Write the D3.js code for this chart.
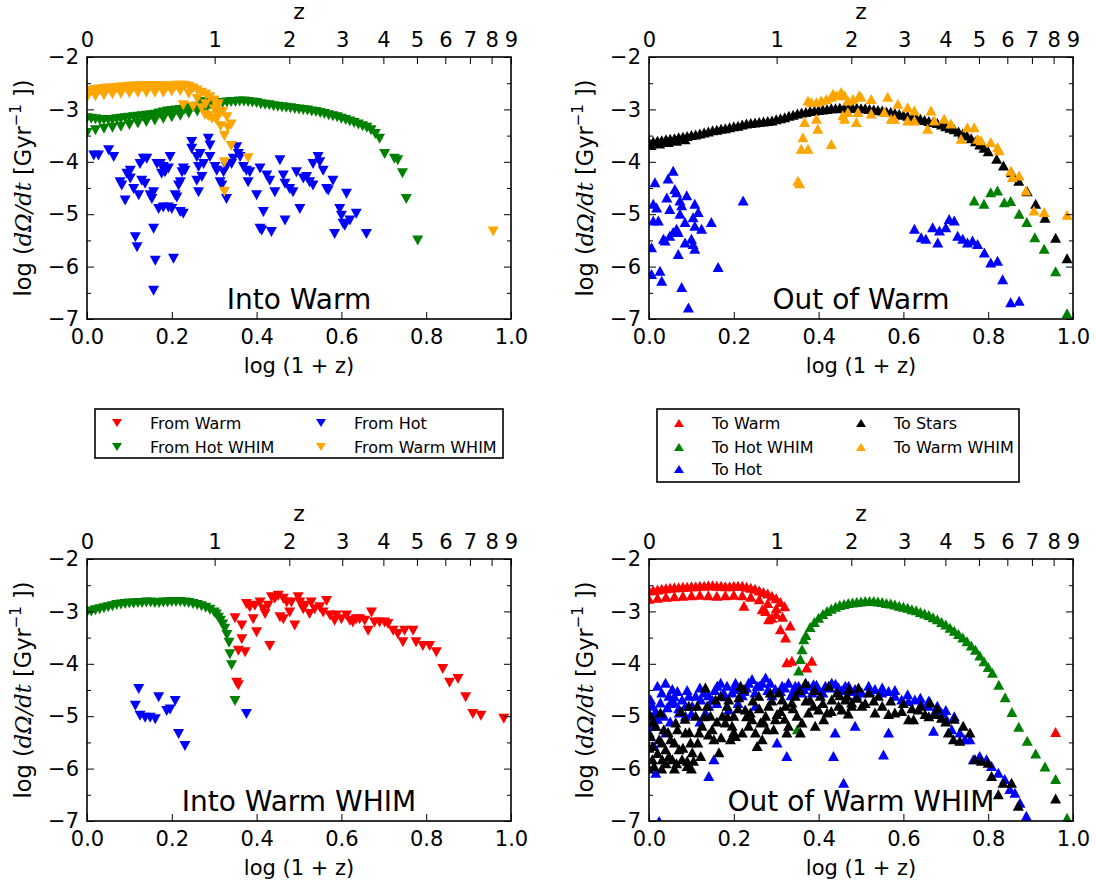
<!DOCTYPE html>
<html>
<head>
<meta charset="utf-8">
<script src="https://cdn.jsdelivr.net/npm/d3@7"></script>
<style>
  body { margin: 0; background: #fff; }
</style>
</head>
<body>
<svg id="mainsvg" width="1096" height="882"></svg>
<script>
// ---- Into Warm (top left) ----
const iwFromHotWHIM = [
  [0.00,-3.17],[0.01,-3.18],[0.02,-3.19],[0.03,-3.2],[0.04,-3.2],[0.05,-3.2],[0.06,-3.2],[0.07,-3.19],[0.08,-3.18],[0.09,-3.17],
  [0.10,-3.16],[0.11,-3.15],[0.12,-3.14],[0.13,-3.13],[0.14,-3.12],[0.15,-3.11],[0.16,-3.1],[0.17,-3.08],[0.18,-3.06],[0.19,-3.04],
  [0.20,-3.03],[0.21,-3.02],[0.22,-3.01],[0.23,-3.0],[0.24,-2.98],[0.25,-2.96],[0.26,-2.95],[0.27,-2.93],[0.28,-2.92],[0.29,-2.91],
  [0.30,-2.9],[0.31,-2.89],[0.32,-2.88],[0.33,-2.87],[0.34,-2.86],[0.35,-2.86],[0.36,-2.85],[0.37,-2.85],[0.38,-2.86],[0.39,-2.87],
  [0.40,-2.88],[0.41,-2.9],[0.42,-2.91],[0.43,-2.92],[0.44,-2.94],[0.45,-2.95],[0.46,-2.96],[0.47,-2.97],[0.48,-2.98],[0.49,-2.99],
  [0.50,-3.0],[0.51,-3.01],[0.52,-3.02],[0.53,-3.04],[0.54,-3.05],[0.55,-3.07],[0.56,-3.09],[0.57,-3.11],[0.58,-3.13],[0.59,-3.15],
  [0.60,-3.18],[0.61,-3.2],[0.62,-3.23],[0.63,-3.26],[0.64,-3.29],[0.65,-3.32],[0.66,-3.35],[0.67,-3.4],[0.68,-3.47],[0.69,-3.56],
  [0.00,-3.45],[0.02,-3.4],[0.04,-3.37],[0.06,-3.35],[0.08,-3.33],[0.10,-3.3],[0.12,-3.27],[0.14,-3.24],[0.16,-3.21],[0.18,-3.18],
  [0.20,-3.15],[0.22,-3.12],[0.24,-3.08],[0.26,-3.04],[0.28,-3.0],[0.30,-2.96],
  [0.27,-2.86],[0.274,-2.88],[0.702,-3.85],[0.725,-3.94],[0.733,-3.97],[0.744,-4.22],[0.753,-4.71],[0.78,-5.5]
]
const iwFromHot = [
  [0.016,-3.88],[0.027,-3.88],[0.051,-3.78],[0.063,-3.91],[0.078,-4.39],[0.082,-4.45],[0.09,-4.74],[0.094,-4.23],[0.102,-4.17],[0.102,-4.32],
  [0.11,-4.52],[0.114,-5.44],[0.118,-5.63],[0.122,-4.64],[0.125,-4.04],[0.133,-3.94],[0.141,-3.94],[0.129,-4.36],[0.137,-4.42],[0.149,-4.64],
  [0.153,-4.71],[0.157,-4.58],[0.157,-5.28],[0.161,-5.89],[0.157,-6.46],[0.165,-4.04],[0.173,-4.04],[0.18,-4.1],[0.169,-4.9],[0.18,-4.87],
  [0.192,-4.87],[0.2,-4.9],[0.176,-4.23],[0.184,-4.2],[0.192,-4.13],[0.196,-3.91],[0.204,-5.85],[0.208,-4.64],[0.212,-4.68],[0.216,-4.45],
  [0.22,-4.39],[0.22,-4.96],[0.227,-4.99],[0.224,-4.2],[0.227,-4.13],[0.231,-4.17],[0.247,-3.62],[0.247,-3.75],[0.259,-3.91],[0.267,-3.85],
  [0.263,-4.1],[0.259,-4.36],[0.263,-4.58],[0.271,-4.29],[0.275,-4.04],[0.286,-3.56],[0.29,-3.69],[0.29,-3.91],[0.302,-4.1],[0.306,-4.17],
  [0.314,-4.39],[0.318,-4.45],[0.322,-4.2],[0.329,-4.1],[0.329,-4.71],[0.341,-4.04],[0.345,-3.94],[0.353,-3.72],[0.357,-3.85],[0.361,-3.91],
  [0.369,-4.1],[0.376,-4.17],[0.38,-4.39],[0.384,-4.2],[0.4,-4.64],[0.408,-4.13],[0.416,-4.96],[0.408,-5.28],[0.412,-5.31],[0.424,-4.26],
  [0.431,-4.36],[0.435,-5.34],[0.443,-4.58],[0.455,-3.97],[0.463,-4.26],[0.467,-4.42],[0.467,-5.12],[0.478,-4.52],[0.486,-4.58],[0.494,-4.2],
  [0.502,-4.9],[0.51,-4.32],[0.518,-4.29],[0.525,-4.39],[0.533,-4.45],[0.533,-4.04],[0.545,-3.91],[0.549,-4.01],[0.557,-4.17],[0.565,-4.52],
  [0.569,-4.55],[0.58,-4.36],[0.584,-5.38],[0.596,-4.9],[0.6,-5.03],[0.604,-5.18],[0.608,-5.22],[0.612,-4.61],[0.62,-5.12],[0.635,-4.99],
  [0.659,-5.38]
]
const iwFromWarmWHIM = [
  [0.00,-2.66],[0.01,-2.65],[0.02,-2.63],[0.03,-2.62],[0.04,-2.61],[0.05,-2.6],[0.06,-2.6],[0.07,-2.59],[0.08,-2.58],[0.09,-2.58],
  [0.10,-2.57],[0.11,-2.57],[0.12,-2.56],[0.13,-2.56],[0.14,-2.56],[0.15,-2.56],[0.16,-2.56],[0.17,-2.56],[0.18,-2.56],[0.19,-2.57],
  [0.20,-2.56],[0.21,-2.55],[0.22,-2.55],[0.23,-2.55],[0.24,-2.57],[0.25,-2.6],[0.26,-2.64],[0.27,-2.68],[0.28,-2.72],[0.29,-2.77],
  [0.30,-2.83],[0.31,-2.9],
  [0.00,-2.78],[0.02,-2.75],[0.04,-2.73],[0.06,-2.71],[0.08,-2.7],[0.10,-2.69],[0.12,-2.68],[0.14,-2.68],[0.16,-2.68],[0.18,-2.68],
  [0.20,-2.66],[0.22,-2.65],[0.24,-2.7],[0.26,-2.8],[0.28,-2.9],[0.30,-3.0],[0.31,-3.1],[0.32,-3.05],[0.33,-3.15],
  [0.227,-2.92],[0.25,-2.95],[0.27,-2.98],[0.278,-3.1],[0.286,-3.13],[0.295,-3.18],[0.305,-3.2],[0.307,-2.97],[0.315,-3.32],
  [0.324,-3.51],[0.332,-3.35],[0.34,-3.29],[0.34,-3.7],[0.38,-3.93],[0.324,-4.01],[0.324,-4.57],[0.958,-5.33]
]

// ---- Out of Warm (top right) ----
const owToStars = [
  [0.00,-3.62],[0.01,-3.61],[0.02,-3.6],[0.03,-3.59],[0.04,-3.57],[0.05,-3.56],[0.06,-3.55],[0.07,-3.53],[0.08,-3.52],[0.09,-3.51],
  [0.10,-3.49],[0.11,-3.48],[0.12,-3.46],[0.13,-3.44],[0.14,-3.42],[0.15,-3.4],[0.16,-3.39],[0.17,-3.37],[0.18,-3.36],[0.19,-3.34],
  [0.20,-3.32],[0.21,-3.31],[0.22,-3.29],[0.23,-3.27],[0.24,-3.26],[0.25,-3.25],[0.26,-3.24],[0.27,-3.23],[0.28,-3.22],[0.29,-3.21],
  [0.30,-3.19],[0.31,-3.17],[0.32,-3.15],[0.33,-3.12],[0.34,-3.1],[0.35,-3.08],[0.36,-3.06],[0.37,-3.05],[0.38,-3.03],[0.39,-3.02],
  [0.40,-3.01],[0.41,-3.0],[0.42,-2.99],[0.43,-2.98],[0.44,-2.98],[0.45,-2.97],[0.46,-2.97],[0.47,-2.97],[0.48,-2.97],[0.49,-2.97],
  [0.50,-2.98],[0.51,-2.98],[0.52,-2.99],[0.53,-3.0],[0.54,-3.01],[0.55,-3.02],[0.56,-3.04],[0.57,-3.05],[0.58,-3.07],[0.59,-3.09],
  [0.60,-3.1],[0.61,-3.12],[0.62,-3.14],[0.63,-3.16],[0.64,-3.18],[0.65,-3.2],[0.66,-3.22],[0.67,-3.24],[0.68,-3.26],[0.69,-3.29],
  [0.70,-3.32],[0.71,-3.35],[0.72,-3.38],[0.73,-3.42],[0.74,-3.46],[0.75,-3.5],[0.76,-3.55],[0.77,-3.61],[0.78,-3.67],[0.79,-3.73],
  [0.80,-3.8],[0.82,-3.94],[0.836,-4.07],[0.855,-4.2],[0.872,-4.36],[0.892,-4.56],[0.912,-4.8],[0.934,-5.07],[0.959,-5.45],[0.986,-5.84],
  [0.005,-3.68],[0.025,-3.65],[0.045,-3.62],[0.065,-3.6],[0.085,-3.57]
]
const owToWarmWHIM = [
  [0.351,-4.36],[0.355,-4.41],[0.359,-3.75],[0.375,-3.75],[0.363,-3.53],[0.367,-3.24],[0.375,-2.83],[0.383,-2.86],[0.395,-2.86],[0.395,-3.18],
  [0.398,-3.37],[0.406,-2.83],[0.418,-2.8],[0.43,-2.76],[0.434,-2.7],[0.442,-2.73],[0.453,-2.67],[0.461,-2.73],[0.469,-2.83],[0.481,-2.8],
  [0.496,-2.73],[0.5,-2.76],[0.524,-2.8],[0.563,-2.76],[0.587,-2.89],[0.61,-2.96],[0.626,-3.02],[0.665,-3.02],[0.43,-3.66],[0.457,-3.11],
  [0.461,-3.18],[0.489,-3.24],[0.469,-3.05],[0.493,-3.05],[0.524,-3.08],[0.555,-3.05],[0.571,-3.18],[0.579,-3.18],[0.61,-3.21],[0.626,-3.21],
  [0.657,-3.37],[0.673,-3.21],[0.696,-3.18],[0.712,-3.27],[0.736,-3.56],[0.751,-3.34],[0.767,-3.34],[0.775,-3.56],[0.783,-3.59],[0.806,-3.62],
  [0.822,-3.72],[0.826,-3.78],[0.853,-4.17],[0.857,-4.29],[0.873,-4.26],[0.889,-4.55],[0.908,-4.93],[0.932,-4.96],[0.986,-5.01]
]
const owToHot = [
  [0.01,-4.8],[0.01,-5.12],[0.006,-5.63],[0.006,-6.14],[0.014,-4.39],[0.018,-4.87],[0.022,-5.12],[0.026,-6.08],[0.03,-6.27],[0.034,-5.47],
  [0.038,-5.5],[0.045,-4.32],[0.042,-4.68],[0.049,-4.9],[0.049,-5.41],[0.057,-5.34],[0.065,-5.28],[0.069,-5.34],[0.057,-4.17],[0.061,-4.52],
  [0.065,-4.58],[0.069,-5.76],[0.073,-4.74],[0.077,-4.83],[0.073,-4.99],[0.077,-6.39],[0.085,-5.15],[0.089,-4.64],[0.085,-5.54],[0.093,-6.78],
  [0.1,-5.47],[0.104,-5.57],[0.108,-5.66],[0.104,-5.06],[0.108,-4.8],[0.116,-4.96],[0.108,-5.22],[0.124,-5.28],[0.147,-5.15],[0.163,-6.01],
  [0.222,-4.74],
  [0.626,-5.28],[0.642,-5.44],[0.653,-5.47],[0.669,-5.25],[0.681,-5.54],[0.685,-5.31],[0.7,-5.25],[0.708,-5.09],[0.72,-5.12],[0.728,-5.41],
  [0.74,-5.47],[0.751,-5.54],[0.763,-5.5],[0.775,-5.57],[0.791,-5.73],[0.806,-5.92],[0.822,-5.89],[0.834,-6.24],[0.853,-6.68],[0.873,-6.65]
]
const owToHotWHIM = [
  [0.767,-4.74],[0.79,-4.8],[0.806,-4.58],[0.822,-4.55],[0.838,-4.77],[0.853,-4.75],[0.873,-4.99],[0.891,-5.15],[0.91,-5.44],[0.932,-5.66],
  [0.959,-6.09],[0.986,-6.89]
]

// ---- Into Warm WHIM (bottom left) ----
const iwwFromWarm = [
  [0.349,-3.13],[0.365,-3.27],[0.365,-3.53],[0.357,-3.75],[0.373,-3.78],[0.353,-4.36],[0.357,-4.41],[0.376,-2.86],[0.384,-2.92],[0.392,-3.15],
  [0.396,-2.89],[0.4,-3.4],[0.408,-2.83],[0.416,-2.96],[0.42,-3.05],[0.427,-2.89],[0.431,-3.66],[0.435,-2.73],[0.443,-2.76],[0.451,-2.7],
  [0.455,-3.11],[0.463,-3.15],[0.463,-2.76],[0.471,-2.83],[0.478,-3.02],[0.482,-2.83],[0.49,-3.27],[0.498,-2.73],[0.502,-2.83],[0.51,-2.96],
  [0.514,-2.89],[0.525,-3.05],[0.529,-2.83],[0.537,-2.96],[0.549,-2.92],[0.557,-3.02],[0.565,-2.8],[0.573,-3.08],[0.584,-3.18],[0.588,-3.08],
  [0.6,-3.15],[0.612,-3.08],[0.62,-3.18],[0.627,-3.21],[0.635,-3.15],[0.643,-3.15],[0.655,-3.18],[0.663,-3.37],[0.671,-3.02],[0.678,-3.21],
  [0.69,-3.21],[0.702,-3.21],[0.71,-3.24],[0.722,-3.37],[0.733,-3.43],[0.745,-3.59],[0.749,-3.37],[0.769,-3.37],[0.776,-3.59],[0.792,-3.66],
  [0.808,-3.66],[0.824,-3.78],[0.839,-4.1],[0.855,-4.36],[0.875,-4.29],[0.893,-4.64],[0.91,-4.96],[0.929,-4.99],[0.983,-5.05]
]
const iwwFromHotWHIM = [
  [0.00,-3.02],[0.01,-3.0],[0.02,-2.98],[0.03,-2.96],[0.04,-2.94],[0.05,-2.92],[0.06,-2.9],[0.07,-2.88],[0.08,-2.87],[0.09,-2.86],
  [0.10,-2.85],[0.11,-2.85],[0.12,-2.84],[0.13,-2.84],[0.14,-2.83],[0.15,-2.83],[0.16,-2.84],[0.17,-2.84],[0.18,-2.83],[0.19,-2.83],
  [0.20,-2.82],[0.21,-2.82],[0.22,-2.82],[0.23,-2.83],[0.24,-2.84],[0.25,-2.86],[0.26,-2.88],[0.27,-2.9],[0.28,-2.93],[0.29,-2.97],
  [0.30,-3.02],[0.305,-3.06],[0.31,-3.12],[0.315,-3.18],[0.32,-3.25],[0.325,-3.33],[0.33,-3.45],[0.335,-3.6],
  [0.337,-3.82],[0.341,-4.03],[0.349,-4.71]
]
const iwwFromHot = [
  [0.122,-4.48],[0.114,-4.8],[0.125,-4.99],[0.137,-5.03],[0.149,-5.03],[0.161,-5.06],[0.169,-4.64],[0.188,-4.9],[0.196,-4.87],[0.208,-4.71],
  [0.216,-5.34],[0.231,-5.57],[0.376,-4.96]
]

// ---- Out of Warm WHIM (bottom right) ----
const owwToWarm = [
  [0.00,-2.6],[0.01,-2.59],[0.02,-2.58],[0.03,-2.57],[0.04,-2.56],[0.05,-2.55],[0.06,-2.54],[0.07,-2.54],[0.08,-2.53],[0.09,-2.53],
  [0.10,-2.52],[0.11,-2.52],[0.12,-2.51],[0.13,-2.51],[0.14,-2.5],[0.15,-2.5],[0.16,-2.51],[0.17,-2.51],[0.18,-2.52],[0.19,-2.52],
  [0.20,-2.51],[0.21,-2.51],[0.22,-2.51],[0.23,-2.53],[0.24,-2.55],[0.25,-2.57],[0.26,-2.6],[0.27,-2.63],[0.28,-2.66],[0.29,-2.7],
  [0.30,-2.75],[0.31,-2.82],[0.32,-2.9],
  [0.00,-2.76],[0.02,-2.74],[0.04,-2.72],[0.06,-2.71],[0.08,-2.7],[0.10,-2.69],[0.12,-2.68],[0.14,-2.69],[0.16,-2.7],[0.18,-2.69],
  [0.20,-2.68],[0.22,-2.69],[0.24,-2.72],[0.26,-2.77],[0.28,-2.84],[0.30,-2.94],
  [0.224,-2.89],[0.267,-2.96],[0.275,-2.99],[0.282,-3.15],[0.29,-3.12],[0.30,-3.05],[0.31,-3.34],[0.315,-3.1],[0.322,-3.5],[0.333,-3.27],
  [0.325,-3.97],[0.337,-3.94],[0.372,-4.07],[0.384,-3.94],[0.959,-5.3]
]
const owwToHotWHIM = [
  [0.353,-4.13],[0.357,-3.91],[0.361,-3.72],[0.365,-3.53],[0.35,-5.25],
  [0.37,-3.45],[0.38,-3.3],[0.39,-3.2],[0.40,-3.12],[0.41,-3.05],[0.42,-2.99],[0.43,-2.95],[0.44,-2.91],[0.45,-2.88],[0.46,-2.86],
  [0.47,-2.84],[0.48,-2.83],[0.49,-2.82],[0.50,-2.81],[0.51,-2.8],[0.52,-2.8],[0.53,-2.8],[0.54,-2.81],[0.55,-2.82],[0.56,-2.84],
  [0.57,-2.85],[0.58,-2.87],[0.59,-2.89],[0.60,-2.91],[0.61,-2.93],[0.62,-2.96],[0.63,-2.98],[0.64,-3.01],[0.65,-3.04],[0.66,-3.07],
  [0.67,-3.11],[0.68,-3.15],[0.69,-3.2],[0.70,-3.25],[0.71,-3.31],[0.72,-3.37],[0.73,-3.43],[0.74,-3.5],[0.75,-3.57],[0.76,-3.65],
  [0.77,-3.73],[0.78,-3.84],[0.79,-3.95],[0.80,-4.06],[0.81,-4.17],
  [0.825,-4.4],[0.84,-4.64],[0.856,-4.92],[0.872,-5.2],[0.892,-5.47],[0.912,-5.71],[0.934,-5.96],[0.959,-6.2],[0.986,-6.94]
]
const owwToHot = [
  [0.004,-4.68],[0.008,-4.8],[0.012,-5.06],[0.016,-5.18],[0.02,-4.42],[0.027,-4.74],[0.035,-4.99],[0.039,-4.36],[0.047,-4.61],[0.055,-4.48],
  [0.059,-4.74],[0.067,-4.52],[0.071,-4.93],[0.078,-4.68],[0.086,-4.8],[0.094,-4.61],[0.102,-4.8],[0.11,-4.61],[0.122,-4.68],[0.129,-4.55],
  [0.141,-4.8],[0.149,-4.68],[0.161,-4.42],[0.169,-4.36],[0.176,-4.55],[0.184,-4.42],[0.196,-4.55],[0.204,-4.36],[0.212,-4.45],[0.224,-4.52],
  [0.235,-4.36],[0.243,-4.29],[0.255,-4.42],[0.267,-4.36],[0.275,-4.26],[0.286,-4.36],[0.298,-4.48],[0.314,-4.42],[0.329,-4.36],[0.341,-4.52],
  [0.353,-4.42],[0.365,-4.48],[0.376,-4.42],[0.388,-4.39],[0.4,-4.48],[0.416,-4.42],[0.431,-4.36],[0.447,-4.45],[0.463,-4.42],[0.475,-4.52],
  [0.016,-4.9],[0.043,-4.83],[0.086,-4.99],[0.133,-4.93],[0.188,-4.87],[0.251,-4.8],
  [0.03,-4.55],[0.06,-4.62],[0.09,-4.5],[0.12,-4.45],[0.14,-4.6],[0.155,-4.5],[0.18,-4.62],[0.2,-4.48],[0.22,-4.6],[0.23,-4.45],
  [0.25,-4.55],[0.26,-4.42],[0.28,-4.5],[0.29,-4.6],[0.31,-4.52],[0.32,-4.45],[0.335,-4.6],[0.345,-4.42],[0.36,-4.55],[0.37,-4.38],
  [0.385,-4.55],[0.395,-4.4],[0.41,-4.55],[0.425,-4.45],[0.44,-4.38],[0.455,-4.5],[0.0,-4.95],[0.02,-5.05],[0.05,-5.1],[0.07,-4.85],
  [0.1,-4.95],[0.12,-5.1],[0.16,-4.75],[0.21,-4.75],[0.05,-4.75],[0.0,-5.3],
  [0.016,-6.08],[0.141,-6.14],[0.153,-5.82],[0.302,-5.5],[0.325,-5.76],[0.439,-5.31],[0.435,-5.76],[0.459,-6.27],[0.024,-7.0],[0.012,-5.57],
  [0.039,-5.31],[0.004,-5.18],
  [0.471,-4.42],[0.486,-4.48],[0.502,-4.55],[0.518,-4.42],[0.533,-4.48],[0.549,-4.55],[0.565,-4.52],[0.58,-4.61],[0.596,-4.68],[0.612,-4.71],
  [0.627,-4.68],[0.643,-4.77],[0.659,-4.8],[0.675,-4.9],[0.69,-4.93],[0.702,-5.06],[0.714,-5.25],[0.733,-5.31],[0.745,-5.44],[0.757,-5.44],
  [0.765,-5.82],[0.78,-5.76],[0.796,-5.82],[0.808,-5.95],[0.824,-6.08],[0.839,-6.2],[0.851,-6.39],[0.863,-6.46],[0.875,-6.65],[0.89,-6.9],
  [0.486,-5.18],[0.565,-5.31],[0.553,-5.73],[0.671,-5.28],
  [0.49,-4.6],[0.52,-4.52],[0.55,-4.45],[0.58,-4.5],[0.61,-4.58],[0.64,-4.65],[0.66,-4.7],[0.68,-4.8],[0.7,-4.88],[0.72,-5.0]
]
const owwToStars = [
  [0.004,-4.99],[0.004,-5.38],[0.008,-5.57],[0.008,-5.82],[0.012,-5.95],[0.016,-5.18],[0.024,-5.44],[0.027,-4.93],[0.031,-5.82],[0.035,-5.25],
  [0.039,-5.63],[0.047,-5.76],[0.051,-5.44],[0.055,-5.82],[0.063,-5.12],[0.067,-5.25],[0.071,-5.63],[0.075,-4.9],[0.078,-5.82],[0.086,-5.31],
  [0.09,-5.95],[0.094,-4.8],[0.098,-5.5],[0.102,-5.69],[0.11,-4.99],[0.114,-4.8],[0.118,-5.31],[0.122,-5.76],[0.125,-5.18],[0.133,-4.45],
  [0.137,-4.8],[0.145,-4.99],[0.149,-5.25],[0.153,-5.44],[0.157,-4.68],[0.165,-5.69],[0.169,-4.61],[0.173,-4.99],[0.18,-5.12],[0.184,-4.8],
  [0.188,-4.68],[0.192,-5.44],[0.196,-5.18],[0.2,-4.99],[0.204,-5.38],[0.212,-4.64],[0.216,-4.42],[0.22,-5.31],[0.224,-4.48],[0.227,-4.87],
  [0.235,-5.18],[0.239,-4.93],[0.243,-5.06],[0.251,-5.31],[0.255,-5.57],[0.259,-4.61],[0.263,-5.12],[0.267,-5.44],[0.275,-4.99],[0.278,-5.25],
  [0.282,-4.8],[0.286,-4.55],[0.294,-5.25],[0.298,-5.06],[0.302,-4.96],[0.306,-4.55],[0.314,-4.68],[0.322,-4.8],[0.325,-5.31],[0.329,-5.18],
  [0.337,-4.74],[0.345,-4.61],[0.349,-4.99],[0.357,-5.31],[0.361,-5.12],[0.369,-4.36],[0.376,-4.93],[0.38,-4.68],[0.388,-4.8],[0.392,-5.18],
  [0.4,-4.87],[0.404,-4.61],[0.412,-5.06],[0.42,-4.93],[0.424,-4.42],[0.431,-4.68],[0.443,-4.55],[0.447,-4.8],[0.455,-4.87],[0.463,-4.68],
  [0.471,-4.48],[0.478,-4.74],
  [0.0,-5.6],[0.01,-5.1],[0.02,-5.7],[0.03,-5.5],[0.04,-5.9],[0.045,-5.3],[0.06,-5.5],[0.065,-5.9],[0.08,-5.6],[0.085,-5.05],
  [0.095,-5.3],[0.105,-5.85],[0.115,-5.5],[0.13,-5.0],[0.14,-5.35],[0.16,-5.1],[0.17,-5.4],[0.185,-5.0],[0.2,-5.3],[0.21,-4.85],
  [0.23,-5.0],[0.245,-4.7],[0.26,-4.85],[0.27,-5.1],[0.29,-4.7],[0.31,-4.9],[0.32,-5.05],[0.34,-4.85],[0.355,-4.5],[0.37,-4.7],
  [0.39,-4.5],[0.41,-4.75],[0.43,-4.9],[0.45,-4.6],[0.47,-4.95],[0.49,-4.65],[0.51,-4.75],[0.53,-4.7],[0.55,-4.8],[0.57,-4.7],
  [0.6,-4.75],[0.62,-4.85],[0.64,-4.8],[0.66,-5.0],[0.68,-4.85],[0.7,-5.1],[0.72,-5.05],[0.0,-6.0],[0.03,-6.0],[0.06,-6.0],
  [0.1,-6.0],[0.09,-5.85],
  [0.467,-4.61],[0.478,-4.8],[0.494,-4.45],[0.502,-4.8],[0.518,-4.55],[0.533,-4.93],[0.541,-4.61],[0.565,-4.96],[0.58,-4.93],[0.596,-4.9],
  [0.612,-5.06],[0.624,-5.06],[0.635,-4.87],[0.651,-4.96],[0.663,-4.74],[0.675,-4.96],[0.69,-5.03],[0.706,-5.31],[0.718,-5.44],[0.733,-5.47],
  [0.741,-5.18],[0.757,-5.31],[0.769,-5.82],[0.784,-5.85],[0.8,-5.89],[0.808,-6.14],[0.835,-6.27],[0.855,-6.27],[0.824,-6.49],[0.871,-6.71],
  [0.959,-6.57]
]

const zTicks = [0, 1, 2, 3, 4, 5, 6, 7, 8, 9]
const xTicks = [0, 0.2, 0.4, 0.6, 0.8, 1.0]
const yTicks = [-7, -6, -5, -4, -3, -2]
const yMinorTicks = [-6.5, -5.5, -4.5, -3.5, -2.5]

const legendInto = [
  {label: 'From Warm', color: 'red', col: 0, row: 0},
  {label: 'From Hot WHIM', color: 'green', col: 0, row: 1},
  {label: 'From Hot', color: 'blue', col: 1, row: 0},
  {label: 'From Warm WHIM', color: 'orange', col: 1, row: 1}
]
const legendOut = [
  {label: 'To Warm', color: 'red', col: 0, row: 0},
  {label: 'To Hot WHIM', color: 'green', col: 0, row: 1},
  {label: 'To Hot', color: 'blue', col: 0, row: 2},
  {label: 'To Stars', color: 'black', col: 1, row: 0},
  {label: 'To Warm WHIM', color: 'orange', col: 1, row: 1}
]

const panelW = 424
const panelH = 262
const font = 'DejaVu Sans'
const svg = d3.select('#mainsvg')

// triangles, bbox-centred like matplotlib markers
const upTri = 'M0,-5L5.5,5L-5.5,5Z'
const downTri = 'M0,5L5.5,-5L-5.5,-5Z'
const upTriSmall = 'M0,-4L5,4L-5,4Z'
const downTriSmall = 'M0,4L5,-4L-5,-4Z'

function drawPanel(pos, title, series, name) {
  const g = svg.append('g').attr('transform', `translate(${pos[0]},${pos[1]})`)
  const x = d3.scaleLinear().domain([0, 1]).range([0, panelW])
  const y = d3.scaleLinear().domain([-7, -2]).range([panelH, 0])
  const z = d3.scaleLog().domain([1, 10]).range([0, panelW])

  g.append('clipPath').attr('id', `clip${name}`)
    .append('rect').attr('width', panelW).attr('height', panelH)

  const plot = g.append('g').attr('clip-path', `url(#clip${name})`)
  series.forEach(s => {
    plot.append('g').selectAll('path').data(s.data).join('path')
      .attr('d', s.up ? upTri : downTri)
      .attr('transform', d => `translate(${x(d[0])},${y(d[1])})`)
      .attr('fill', s.color)
  })

  // title inside the frame
  g.append('text')
    .attr('x', x(0.5)).attr('y', panelH - 10)
    .attr('text-anchor', 'middle')
    .attr('font-family', font).attr('font-size', 28)
    .text(title)

  // axes, ticks point inward
  const styleAxis = a => {
    a.select('.domain').remove()
    a.selectAll('line').attr('stroke', '#000').attr('stroke-width', 1)
    a.selectAll('text').attr('font-family', font).attr('font-size', 21).attr('fill', '#000')
  }
  g.append('g').attr('transform', `translate(0,${panelH})`)
    .call(d3.axisBottom(x).tickValues(xTicks).tickFormat(d3.format('.1f')).tickSizeInner(-7).tickSizeOuter(0).tickPadding(10))
    .call(styleAxis)
  g.append('g')
    .call(d3.axisLeft(y).tickValues(yTicks).tickFormat(d3.format('d')).tickSizeInner(-7).tickSizeOuter(0).tickPadding(8))
    .call(styleAxis)
  g.append('g')
    .call(d3.axisLeft(y).tickValues(yMinorTicks).tickFormat('').tickSizeInner(-4).tickSizeOuter(0))
    .call(styleAxis)
  g.append('g').attr('transform', `translate(${panelW},0)`)
    .call(d3.axisRight(y).tickValues(yTicks).tickFormat('').tickSizeInner(-7).tickSizeOuter(0))
    .call(styleAxis)
  g.append('g').attr('transform', `translate(${panelW},0)`)
    .call(d3.axisRight(y).tickValues(yMinorTicks).tickFormat('').tickSizeInner(-4).tickSizeOuter(0))
    .call(styleAxis)
  g.append('g')
    .call(d3.axisTop(z).tickValues(zTicks.map(v => v + 1)).tickFormat(v => Math.round(v - 1)).tickSizeInner(-7).tickSizeOuter(0).tickPadding(10))
    .call(styleAxis)

  g.append('rect')
    .attr('width', panelW).attr('height', panelH)
    .attr('fill', 'none').attr('stroke', '#000').attr('stroke-width', 1.6)

  // axis labels
  g.append('text')
    .attr('x', x(0.5)).attr('y', panelH + 54)
    .attr('text-anchor', 'middle')
    .attr('font-family', font).attr('font-size', 21)
    .text('log (1 + z)')
  g.append('text')
    .attr('x', x(0.5)).attr('y', -38)
    .attr('text-anchor', 'middle')
    .attr('font-family', font).attr('font-size', 22)
    .text('z')

  const yl = g.append('text')
    .attr('transform', `translate(-56,${panelH / 2}) rotate(-90)`)
    .attr('text-anchor', 'middle')
    .attr('font-family', font).attr('font-size', 22.5)
  yl.append('tspan').text('log (')
  yl.append('tspan').attr('font-family', 'DejaVu Serif').attr('font-style', 'italic').text('dΩ/dt')
  yl.append('tspan').text(' [Gyr')
  yl.append('tspan').attr('font-size', 15).attr('dy', -10).text('−1')
  yl.append('tspan').attr('dy', 10).text(' ])')
}

function drawLegend(box, items, colX, rowY) {
  const g = svg.append('g').attr('transform', `translate(${box[0]},${box[1]})`)
  g.append('rect')
    .attr('width', box[2]).attr('height', box[3])
    .attr('fill', '#fff').attr('stroke', '#000').attr('stroke-width', 1.6)
  items.forEach(d => {
    const mx = colX[d.col], my = rowY[d.row]
    g.append('path')
      .attr('d', box[4] ? upTriSmall : downTriSmall)
      .attr('transform', `translate(${mx},${my})`)
      .attr('fill', d.color)
    g.append('text')
      .attr('x', mx + 33).attr('y', my)
      .attr('dy', '0.36em')
      .attr('font-family', font).attr('font-size', 16)
      .text(d.label)
  })
}

drawPanel([87, 57], 'Into Warm', [
  {data: iwFromHotWHIM, color: 'green'},
  {data: iwFromHot, color: 'blue'},
  {data: iwFromWarmWHIM, color: 'orange'}
], 'iw')

drawPanel([649, 57], 'Out of Warm', [
  {data: owToHotWHIM, color: 'green', up: true},
  {data: owToHot, color: 'blue', up: true},
  {data: owToStars, color: 'black', up: true},
  {data: owToWarmWHIM, color: 'orange', up: true}
], 'ow')

drawPanel([87, 559], 'Into Warm WHIM', [
  {data: iwwFromWarm, color: 'red'},
  {data: iwwFromHotWHIM, color: 'green'},
  {data: iwwFromHot, color: 'blue'}
], 'iww')

drawPanel([649, 559], 'Out of Warm WHIM', [
  {data: owwToWarm, color: 'red', up: true},
  {data: owwToHotWHIM, color: 'green', up: true},
  {data: owwToHot, color: 'blue', up: true},
  {data: owwToStars, color: 'black', up: true}
], 'oww')

drawLegend([95, 409, 408, 49, false], legendInto, [22, 226], [14, 38])
drawLegend([657, 409, 362, 73, true], legendOut, [22, 204], [14, 38, 60])
</script>
</body>
</html>
